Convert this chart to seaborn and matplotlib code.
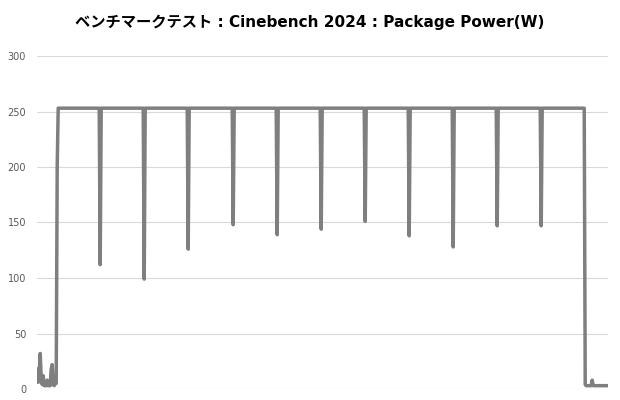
import numpy as np
import pandas as pd
import matplotlib
matplotlib.use('Agg')
import matplotlib.pyplot as plt
import seaborn as sns

# Dados (tempo em amostras, potência em W)
idle_t = [0, 1, 2, 3, 4, 5, 6, 7, 9, 10, 11, 13, 14, 15, 16, 17, 18, 19, 20]
idle_w = [18, 6, 14, 32, 10, 4, 12, 3, 3, 8, 3, 3, 18, 22, 4, 3, 5, 5, 200]

plateau_w = 253
load_start = 21
dip_t = [63, 107, 151, 196, 240, 284, 328, 372, 416, 460, 504]
dip_w = [112, 99, 126, 148, 139, 144, 151, 138, 128, 147, 147]

end_t = [547, 548, 549, 554, 555, 556, 571]
end_w = [253, 4, 3, 3, 8, 3, 3]

# Montar a série
t = list(idle_t) + [load_start]
w = list(idle_w) + [plateau_w]
for dt, dw in zip(dip_t, dip_w):
    t += [dt - 1, dt, dt + 1]
    w += [plateau_w, dw, plateau_w]
t += end_t
w += end_w
df = pd.DataFrame({'t': t, 'w': w})

sns.set_theme(style='white')
plt.rcParams['font.family'] = ['DejaVu Sans', 'Noto Sans CJK JP']

fig = plt.figure(figsize=(6.2, 4), dpi=100)
ax = fig.add_axes([0.06, 0.0275, 0.921, 0.8325])

for yv in range(0, 301, 50):
    ax.axhline(yv, color='#d9d9d9', linewidth=0.8, zorder=0)

sns.lineplot(data=df, x='t', y='w', ax=ax, color='#7f7f7f', linewidth=2.5)

ax.set_xlim(0, 571)
ax.set_ylim(0, 300)
ax.set_yticks(range(0, 301, 50))
ax.set_xticks([])
ax.set_xlabel('')
ax.set_ylabel('')
ax.tick_params(axis='y', length=0, pad=8, labelsize=7, labelcolor='#595959')
for s in ax.spines.values():
    s.set_visible(False)

fig.text(0.5, 0.945, 'ベンチマークテスト : Cinebench 2024 : Package Power(W)',
         ha='center', va='center', fontsize=11, fontweight='bold', color='black')

plt.savefig('out.png', dpi=100)
plt.close()
